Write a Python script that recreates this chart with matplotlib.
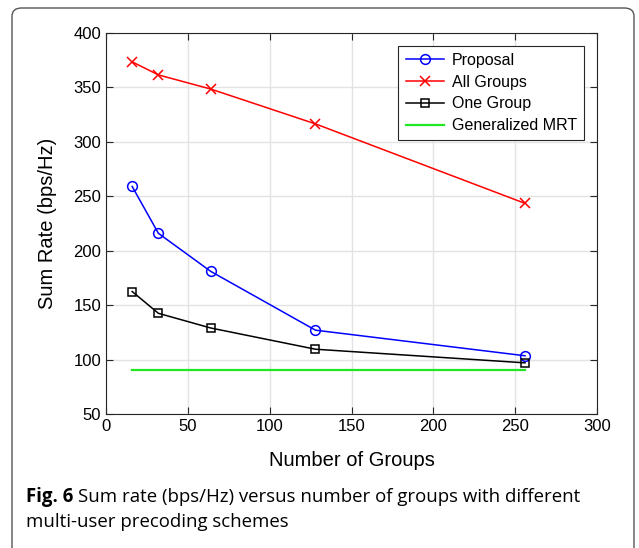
import matplotlib.pyplot as plt
from matplotlib.patches import FancyBboxPatch

groups = [16, 32, 64, 128, 256]
proposal = [259, 216, 181, 127, 103.5]
all_groups = [373.5, 361.5, 348.5, 316.5, 243.5]
one_group = [162.5, 142.5, 129, 109.5, 97]
gen_mrt = [90, 90, 90, 90, 90]

plt.rcParams['font.family'] = ['Liberation Sans', 'DejaVu Sans']

fig = plt.figure(figsize=(6.39, 5.48), dpi=100)

# rounded frame around the whole figure
frame = FancyBboxPatch((12 / 639, -0.05), 622 / 639, 1 - 8 / 548 + 0.05,
                       boxstyle='round,pad=0,rounding_size=0.015',
                       transform=fig.transFigure, fc='none', ec='#555555',
                       lw=1.0, zorder=-5)
fig.patches.append(frame)

ax = fig.add_axes([106 / 639, 134 / 548, 491 / 639, 381 / 548])

ax.plot(groups, proposal, color='#0000ff', lw=1.1, marker='o', ms=7,
        mfc='none', mew=1.1, label='Proposal')
ax.plot(groups, all_groups, color='#ff0000', lw=1.1, marker='x', ms=7,
        mew=1.1, label='All Groups')
ax.plot(groups, one_group, color='black', lw=1.1, marker='s', ms=6,
        mfc='none', mew=1.1, label='One Group')
ax.plot(groups, gen_mrt, color='#22e622', lw=1.6, label='Generalized MRT')

ax.set_xlim(0, 300)
ax.set_ylim(50, 400)
ax.set_xticks(range(0, 301, 50))
ax.set_yticks(range(50, 401, 50))
ax.grid(True, color='#e3e3e3', lw=1)
ax.set_axisbelow(True)
ax.tick_params(direction='in', top=True, right=True, length=5,
               labelsize=12, color='#262626', labelcolor='black')
for s in ax.spines.values():
    s.set_color('#262626')
    s.set_linewidth(0.8)

ax.set_xlabel('Number of Groups', fontsize=14.5, labelpad=12)
ax.set_ylabel('Sum Rate (bps/Hz)', fontsize=14.5, labelpad=12)

leg = ax.legend(loc='upper right', fontsize=11.5, fancybox=False,
                edgecolor='#262626', framealpha=1, borderaxespad=0.8,
                handlelength=2.4, handletextpad=0.5, labelspacing=0.42,
                borderpad=0.45)
leg.get_frame().set_linewidth(0.8)

# caption
cap = fig.text(26 / 639, 1 - 497 / 548, 'Fig. 6', fontsize=13.4,
               family='Open Sans', fontweight='bold', va='center', ha='left')
ax.annotate('Sum rate (bps/Hz) versus number of groups with different',
            xy=(1, 0.5), xycoords=cap, xytext=(3, 0),
            textcoords='offset points', fontsize=13.4, family='Open Sans',
            va='center', ha='left', annotation_clip=False)
fig.text(26 / 639, 1 - 522 / 548, 'multi-user precoding schemes',
         fontsize=13.4, family='Open Sans', va='center', ha='left')

fig.savefig('out.png', dpi=100)
